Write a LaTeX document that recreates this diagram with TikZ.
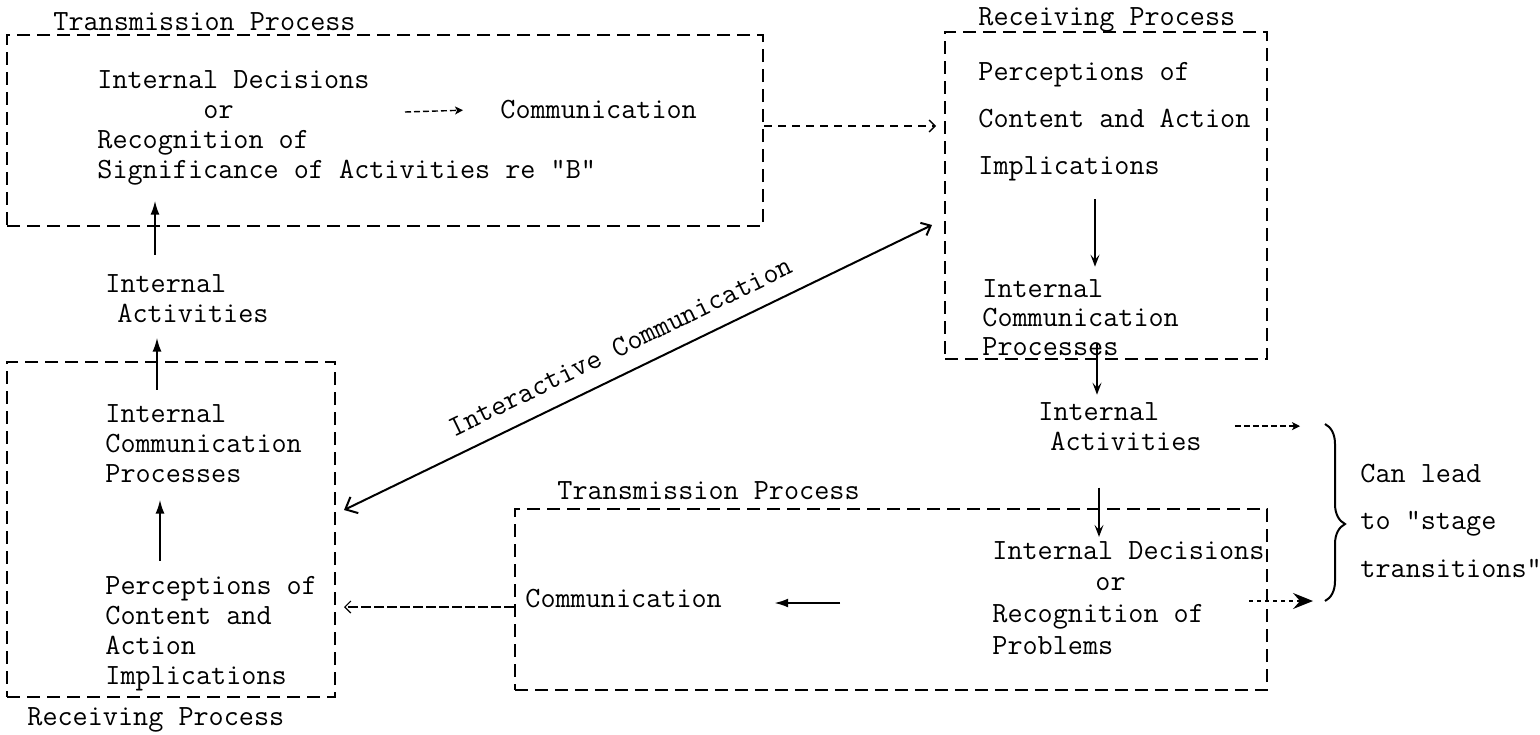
\documentclass[tikz,border=0pt]{standalone}
\usetikzlibrary{arrows.meta,calc,decorations.pathreplacing}
\begin{document}
\begin{tikzpicture}[x=0.5pt,y=-0.5pt,
  box/.style={draw, line width=1pt, dash pattern=on 6.5pt off 3.5pt, inner sep=0, rectangle},
  txt/.style={font=\fontsize{14.67}{#1}\selectfont\ttfamily, inner sep=0, anchor=base west, align=left},
  txt/.default=15pt,
  arr/.style={line width=1pt, -{Latex[length=7pt,width=4.5pt]}},
  yarr/.style={line width=0.8pt, -{Stealth[length=6pt,width=4.5pt,inset=2.5pt]}},
  dotarr/.style={line width=0.7pt, dash pattern=on 4pt off 3pt, -{Straight Barb[length=3pt,width=6pt]}},
  faintarr/.style={line width=0.6pt, dash pattern=on 5pt off 1.5pt, -{Straight Barb[length=3pt,width=6pt]}},
  smalldash/.style={line width=0.7pt, dash pattern=on 3pt off 1.5pt, -{Stealth[length=4pt,width=4pt,inset=1pt]}},
  boldtip/.style={line width=0.7pt, dash pattern=on 2pt off 2pt, -{Stealth[length=10pt,width=8pt,inset=3.5pt]}},
  inter/.style={line width=1pt, {Straight Barb[length=5pt,width=9pt]}-{Straight Barb[length=4pt,width=7pt]}},
  curly/.style={line width=1pt, decorate, decoration={brace, amplitude=10pt, aspect=0.565}}
]
\useasboundingbox (0,0) rectangle (1540,734);

% process boxes
\node[box, minimum width=378pt, minimum height=95.5pt] (tp1) at (385,130.5) {};
\node[box, minimum width=161pt, minimum height=163.5pt] (rp2) at (1106,195.5) {};
\node[box, minimum width=164pt, minimum height=167.5pt] (rp3) at (171,529.5) {};
\node[box, minimum width=376pt, minimum height=90.5pt] (tp4) at (891,599.5) {};

% box titles
\node[txt] (lbl1) at (53,30) {Transmission Process};
\node[txt] (lbl2) at (978,25) {Receiving Process};
\node[txt] (lbl3) at (27,725) {Receiving Process};
\node[txt] (lbl4) at (557,499) {Transmission Process};

% texts of the first transmission box (placed by the baseline of their last line)
\node[txt] (dec1) at (97,178) {Internal Decisions\\\hspace*{53pt}or\\Recognition of\\Significance of Activities re "B"};
\node[txt] (com1) at (500,118) {Communication};

% left column
\node[txt] (ia1) at (105,322) {Internal\\\hspace*{6pt}Activities};
\node[txt] (ici3) at (105,482) {Internal\\Communication\\Processes};
\node[txt] (pci3) at (105,684) {Perceptions of\\Content and\\Action\\Implications};

% right receiving box
\node[txt=23.5pt] (pc2) at (978,174) {Perceptions of\\Content and Action\\Implications};
\node[txt=14.5pt] (ic2) at (982,355) {Internal\\Communication\\Processes};

% right column
\node[txt] (ia2) at (1038,450) {Internal\\\hspace*{6pt}Activities};
\node[txt=23.75pt] (cl) at (1360,577) {Can lead\\to "stage\\transitions"};
\node[txt=15.8pt] (dec4) at (992,654) {Internal Decisions\\\hspace*{51.5pt}or\\Recognition of\\Problems};
\node[txt] (com4) at (525,607) {Communication};

% helper positions
\coordinate (d1o) at (405,112);
\coordinate (ax1) at (155,0);
\coordinate (ax2) at (157,0);
\coordinate (ax3) at (160,0);
\coordinate (ax4) at (1095,0);
\coordinate (ax5) at (1097,0);
\coordinate (ax6) at (1099,0);
\coordinate (m12) at (850,126);
\coordinate (brA) at (1325,424);
\coordinate (brB) at (1325,601);

% connectors
\draw[smalldash, shorten >=18.5pt] (d1o) -- (com1.west);
\draw[arr] ($(ia1.north -| ax1)+(0,-19)$) -- ($(dec1.south -| ax1)+(0,15.5)$);
\draw[arr] ($(ici3.north -| ax2)+(0,-14)$) -- ($(ia1.south -| ax2)+(0,15)$);
\draw[arr] ($(pci3.north -| ax3)+(0,-15)$) -- ($(ici3.south -| ax3)+(0,17)$);
\draw[dotarr, shorten >=4pt] (tp1.east |- m12) -- (rp2.west |- m12);
\draw[yarr] ($(pc2.south -| ax4)+(0,18.5)$) -- ($(ic2.north -| ax4)+(0,-12)$);
\draw[yarr] ($(ic2.south -| ax5)+(0,-12)$) -- ($(ia2.north -| ax5)+(0,-7)$);
\draw[smalldash, shorten <=16.5pt, shorten >=12.5pt] (ia2.east) -- (brA |- ia2.east);
\draw[yarr] ($(ia2.south -| ax6)+(0,37)$) -- ($(dec4.north -| ax6)+(0,-4)$);
\draw[arr] ($(dec4.west |- com4.base)+(-152,-4)$) -- ($(com4.base east)+(52,-4)$);
\draw[faintarr, shorten >=4pt] (tp4.west |- com4.base) -- (rp3.east |- com4.base);
\draw[boldtip, shorten >=6pt] ($(tp4.east |- brB)+(-19,0)$) -- (brB);
\draw[inter] ($(rp3.east)+(8,-19.5)$) --
  node[pos=0.49, sloped, above=8pt, inner sep=0, font=\fontsize{14.67}{15}\selectfont\ttfamily] (icl) {Interactive Communication}
  ($(rp2.west)+(-12,29.5)$);
\draw[curly] (brA) -- (brB);
\end{tikzpicture}
\end{document}
